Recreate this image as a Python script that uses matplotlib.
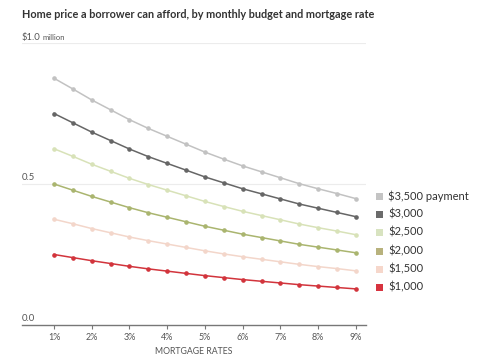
import matplotlib
matplotlib.use("Agg")
import matplotlib.pyplot as plt
from matplotlib.patches import Rectangle

rates = [1, 1.5, 2, 2.5, 3, 3.5, 4, 4.5, 5, 5.5, 6, 6.5, 7, 7.5, 8, 8.5, 9]
tick_rates = [1, 2, 3, 4, 5, 6, 7, 8, 9]
tick_labels = ["1%", "2%", "3%", "4%", "5%", "6%", "7%", "8%", "9%"]

p3500 = [0.875, 0.837, 0.798, 0.763, 0.728, 0.697, 0.669, 0.641, 0.613, 0.588, 0.564, 0.543, 0.522, 0.501, 0.483, 0.466, 0.448]
p3000 = [0.750, 0.717, 0.684, 0.654, 0.624, 0.597, 0.573, 0.549, 0.525, 0.504, 0.483, 0.465, 0.447, 0.429, 0.414, 0.399, 0.384]
p2500 = [0.625, 0.598, 0.570, 0.545, 0.520, 0.498, 0.478, 0.458, 0.438, 0.420, 0.403, 0.388, 0.373, 0.358, 0.345, 0.333, 0.320]
p2000 = [0.500, 0.478, 0.456, 0.436, 0.416, 0.398, 0.382, 0.366, 0.350, 0.336, 0.322, 0.310, 0.298, 0.286, 0.276, 0.266, 0.256]
p1500 = [0.375, 0.359, 0.342, 0.327, 0.312, 0.299, 0.287, 0.275, 0.263, 0.252, 0.242, 0.233, 0.224, 0.215, 0.207, 0.200, 0.192]
p1000 = [0.250, 0.239, 0.228, 0.218, 0.208, 0.199, 0.191, 0.183, 0.175, 0.168, 0.161, 0.155, 0.149, 0.143, 0.138, 0.133, 0.128]

series_labels = ["$3,500 payment", "$3,000", "$2,500", "$2,000", "$1,500", "$1,000"]
series = [p3500, p3000, p2500, p2000, p1500, p1000]
line_colors = ["#c2c2c2", "#666666", "#d8e2b8", "#aab56f", "#f3d6ca", "#d2343c"]
swatch_colors = ["#c4c4c4", "#6b6b6b", "#d8e3c0", "#b8b27d", "#f6d7cb", "#d7333f"]

plt.rcParams['font.family'] = ['Lato', 'DejaVu Sans']

W, H = 485, 360
fig = plt.figure(figsize=(W / 100, H / 100), dpi=100)
fig.patch.set_facecolor("white")
ax = fig.add_axes([22 / W, 1 - 325 / H, 344 / W, (325 - 43) / H])

for vals, c in zip(series, line_colors):
    ax.plot(rates, vals, color=c, lw=1.1, marker="o", ms=2.3, zorder=3)

ax.set_xlim(1 - 32 / 37.75, 9 + 10 / 37.75)
ax.set_ylim(0, 1.0)

for yv in [0.5, 1.0]:
    ax.axhline(yv, color="#ececec", lw=0.8, zorder=1)

for s in ["top", "right", "left"]:
    ax.spines[s].set_visible(False)
ax.spines["bottom"].set_color("#777777")
ax.spines["bottom"].set_linewidth(1.0)

ax.set_yticks([])
ax.set_xticks(tick_rates)
ax.set_xticklabels(tick_labels, fontsize=6.5, color="#555555")
ax.tick_params(axis="x", length=3, width=0.8, color="#777777", pad=3)
ax.set_xlabel("MORTGAGE RATES", fontsize=6.3, color="#555555", labelpad=3)

yt = ax.get_yaxis_transform()
t1 = fig.text(22 / W, 1 - 40 / H, "$1.0", fontsize=6.8, color="#555555", va="baseline", ha="left")
fig.canvas.draw()
bb = t1.get_window_extent()
fig.text((bb.x1 + 2) / W, 1 - 40 / H, "million", fontsize=5.6, color="#555555", va="baseline", ha="left")
ax.text(0, 0.508, "0.5", transform=yt, fontsize=6.8, color="#555555", va="bottom", ha="left")
ax.text(0, 0.008, "0.0", transform=yt, fontsize=6.8, color="#555555", va="bottom", ha="left")

fig.text(22 / W, 1 - 14 / H, "Home price a borrower can afford, by monthly budget and mortgage rate",
         fontsize=7.8, fontweight="bold", color="#333333", va="center", ha="left")

row_y = [196, 214, 232, 251, 269, 287]
for lab, c, yy in zip(series_labels, swatch_colors, row_y):
    fig.patches.append(Rectangle((376 / W, 1 - (yy + 3.5) / H), 7 / W, 7 / H,
                                 transform=fig.transFigure, facecolor=c, edgecolor="none"))
    fig.text(388 / W, 1 - yy / H, lab, fontsize=8, color="#333333", va="center", ha="left")

fig.savefig("out.png", dpi=100, facecolor="white")
